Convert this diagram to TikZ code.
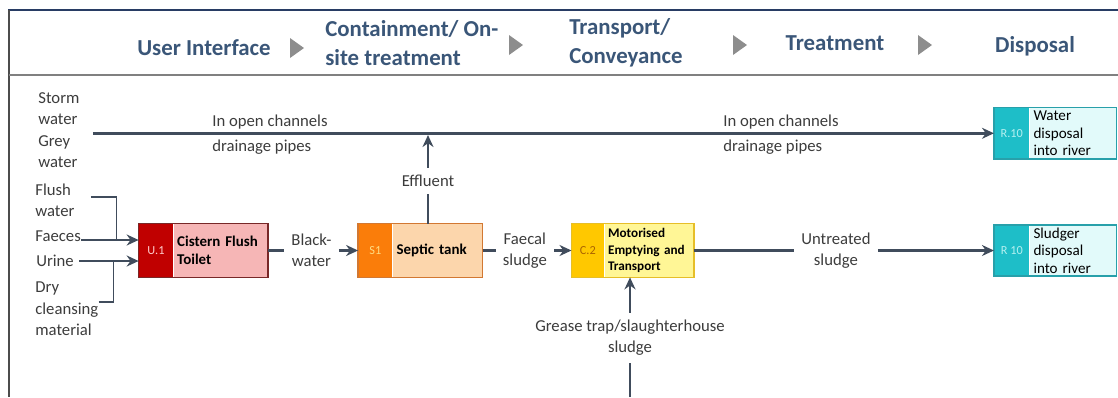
\documentclass[tikz,border=0pt]{standalone}
\usepackage{fontspec}
\setmainfont{Carlito}
\usepackage{xcolor}
\usetikzlibrary{arrows.meta,positioning}
\definecolor{headblue}{RGB}{58,86,120}
\definecolor{framenavy}{RGB}{40,60,100}
\definecolor{linegray}{RGB}{128,128,128}
\definecolor{flowgray}{RGB}{64,76,92}
\definecolor{textgray}{RGB}{60,60,60}
\definecolor{u1dark}{RGB}{192,0,0}
\definecolor{u1light}{RGB}{246,182,182}
\definecolor{u1code}{RGB}{255,205,205}
\definecolor{u1edge}{RGB}{120,40,40}
\definecolor{s1dark}{RGB}{250,125,10}
\definecolor{s1light}{RGB}{252,214,172}
\definecolor{s1code}{RGB}{255,220,130}
\definecolor{s1edge}{RGB}{210,120,50}
\definecolor{c2dark}{RGB}{255,200,0}
\definecolor{c2light}{RGB}{255,246,150}
\definecolor{c2code}{RGB}{170,100,0}
\definecolor{c2edge}{RGB}{230,190,40}
\definecolor{r10dark}{RGB}{30,190,200}
\definecolor{r10light}{RGB}{226,250,250}
\definecolor{r10code}{RGB}{180,240,240}
\definecolor{r10edge}{RGB}{40,160,170}

\begin{document}
\begin{tikzpicture}[x=0.2mm, y=-0.2mm, >={Stealth[length=2.4mm,width=2.2mm]},
    stagehead/.style={font=\fontsize{13}{16.5}\selectfont\bfseries, text=headblue, inner sep=0pt},
    lbl/.style={font=\fontsize{9.5}{12}\selectfont, text=textgray, align=center, inner xsep=4pt, inner ysep=4pt},
    inlbl/.style={font=\fontsize{9.5}{12.2}\selectfont, text=textgray, align=left, inner sep=0pt, anchor=west},
    tag/.style={minimum width=#1, minimum height=1.06cm, inner sep=0pt, font=\fontsize{7}{8}\selectfont},
    partbox/.style={text width=#1, minimum height=1.06cm, inner xsep=2pt, inner ysep=0pt, align=left, font=\fontsize{8.5}{10.5}\selectfont\bfseries, text=black},
    flow/.style={draw=flowgray, line width=1.2pt},
    mainflow/.style={draw=flowgray, line width=2pt},
    inflow/.style={draw=flowgray, line width=1.1pt},
    bracket/.style={draw=flowgray, line width=0.8pt}]
    \useasboundingbox (0,0) rectangle (1118,397);

    % Frame and header
    \draw[framenavy, line width=1.2pt] (8,10) -- (1118,10);
    \draw[black!70, line width=0.8pt] (9,10) -- (9,397);
    \draw[linegray, line width=1pt] (9,75) -- (1118,75);
    \node[stagehead] (ui) at (204,48) {User Interface};
    \node[stagehead, align=left, anchor=west] (cont) at (325,43) {Containment/ On-\\site treatment};
    \node[stagehead, align=left, anchor=west] (conv) at (569,43) {Transport/\\Conveyance};
    \node[stagehead] (treat) at (835,43) {Treatment};
    \node[stagehead] (disp) at (1035,46) {Disposal};
    \foreach \ax/\ay in {297/48, 516/45, 740/45, 925/45} {
        \fill[linegray!90] (\ax-7,\ay-10) -- (\ax+7,\ay) -- (\ax-7,\ay+10) -- cycle;
    }

    % Inputs
    \node[inlbl] (storm) at (38,130) {Storm\\water\\Grey\\water};
    \node[inlbl] (flush) at (35,200) {Flush\\water};
    \node[inlbl] (faeces) at (35,236) {Faeces};
    \node[inlbl] (urine) at (36,261) {Urine};
    \node[inlbl] (dry) at (35,309) {Dry\\cleansing\\material};

    % U.1 cistern flush toilet
    \node[tag=0.68cm, fill=u1dark, text=u1code] (u1c) at (156,250.5) {U.1};
    \node[partbox=1.74cm, fill=u1light, right=0pt of u1c] (u1) {Cistern Flush\\Toilet};
    \draw[u1edge, line width=0.8pt] (u1c.north west) rectangle (u1.south east);

    % S1 septic tank
    \node[tag=0.68cm, fill=s1dark, text=s1code, right=1.8cm of u1] (s1c) {S1};
    \node[partbox=1.64cm, fill=s1light, right=0pt of s1c] (s1) {Septic tank};
    \draw[s1edge, line width=0.8pt] (s1c.north west) rectangle (s1.south east);

    % C.2 motorised emptying
    \node[tag=0.64cm, fill=c2dark, text=c2code, right=1.78cm of s1] (c2c) {C.2};
    \node[partbox=1.64cm, fill=c2light, right=0pt of c2c, font=\fontsize{7.5}{9.5}\selectfont\bfseries] (c2) {Motorised\\Emptying and\\Transport};
    \draw[c2edge, line width=0.8pt] (c2c.north west) rectangle (c2.south east);

    % R.10 disposal into river
    \node[tag=0.7cm, minimum height=1.0cm, fill=r10dark, text=r10code, right=6cm of c2] (r10sc) {R 10};
    \node[partbox=1.58cm, minimum height=1.0cm, fill=r10light, right=0pt of r10sc, font=\fontsize{8.6}{10}\selectfont] (r10s) {Sludger\\disposal\\into river};
    \draw[r10edge, line width=0.8pt] (r10sc.north west) rectangle (r10s.south east);
    \node[tag=0.7cm, minimum height=1.02cm, fill=r10dark, text=r10code, above=1.32cm of r10sc] (r10wc) {R.10};
    \node[partbox=1.58cm, minimum height=1.02cm, fill=r10light, right=0pt of r10wc, font=\fontsize{8.6}{10}\selectfont] (r10w) {Water\\disposal\\into river};
    \draw[r10edge, line width=0.8pt] (r10wc.north west) rectangle (r10w.south east);

    % Open channel for storm and grey water
    \draw[mainflow, ->] ([xshift=2.6mm]storm.east |- r10wc.west) -- (r10wc.west);
    \node[inlbl] (open1) at (212,122) {In open channels};
    \node[inlbl] (pipes1) at (212,147) {drainage pipes};
    \node[inlbl] (open2) at (723,122) {In open channels};
    \node[inlbl] (pipes2) at (723,147) {drainage pipes};

    % Toilet inputs
    \coordinate (u1up) at ([yshift=2.1mm]u1c.west);
    \coordinate (u1dn) at ([yshift=-2.1mm]u1c.west);
    \coordinate (jup) at ([xshift=-4.4mm]u1up);
    \coordinate (jdn) at ([xshift=-5mm]u1dn);
    \draw[bracket] ([xshift=3.2mm, yshift=0.6mm]flush.east) -| (jup);
    \draw[bracket] ([yshift=1.4mm]dry.east) -| (jdn);
    \draw[inflow, ->] (faeces.east |- u1up) -- (u1up);
    \draw[inflow, ->] ([xshift=1mm]urine.east |- u1dn) -- (u1dn);

    % Main sludge chain
    \node[lbl, right=0.32cm of u1] (bw) {Black-\\water};
    \draw[mainflow] (u1) -- (bw);
    \draw[mainflow, ->] (bw) -- (s1c);
    \node[lbl, right=0.26cm of s1] (fs) {Faecal\\sludge};
    \draw[mainflow] (s1) -- (fs);
    \draw[mainflow, ->] (fs) -- (c2c);
    \node[lbl, right=2cm of c2] (untr) {Untreated\\sludge};
    \draw[mainflow] (c2) -- (untr);
    \draw[mainflow, ->] (untr) -- (r10sc);

    % Effluent to drains
    \node[lbl] (eff) at (428,181) {Effluent};
    \draw[flow] (eff) -- (eff |- s1.north);
    \draw[flow, ->, shorten >=1pt] (eff) -- (eff |- r10wc.west);

    % Grease trap sludge
    \node[lbl] (grease) at (630,338) {Grease trap/slaughterhouse\\sludge};
    \coordinate (gin) at (630,397);
    \draw[flow] (gin) -- (grease);
    \draw[flow, ->] (grease) -- (grease |- c2c.south);
\end{tikzpicture}
\end{document}
